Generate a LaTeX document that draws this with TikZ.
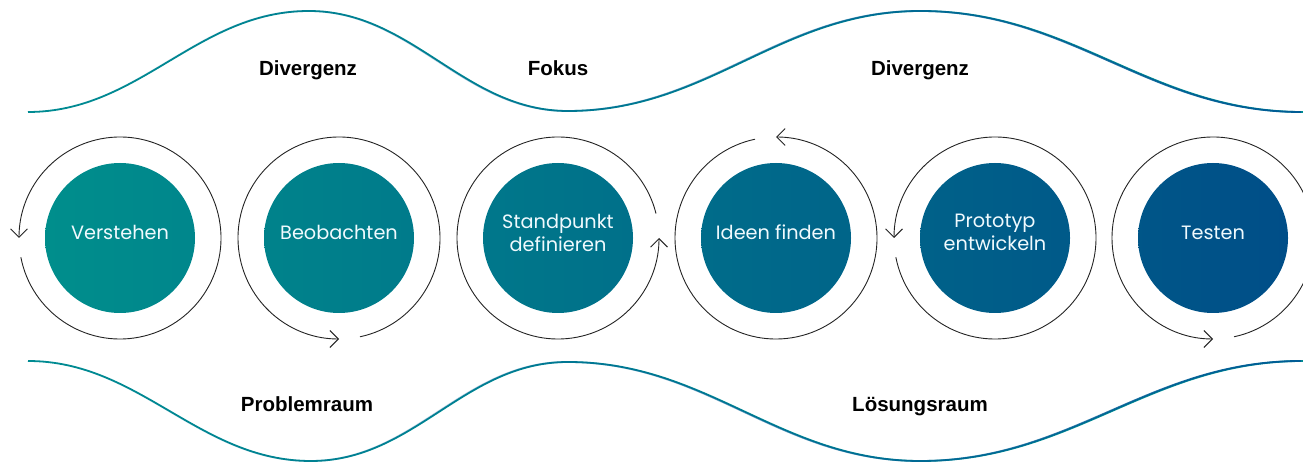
\documentclass[tikz,border=0pt]{standalone}
\usepackage{fontspec}
\setmainfont{Liberation Sans}
\newfontfamily\labelfont{Poppins}
\usetikzlibrary{arrows.meta,calc,fadings}
\definecolor{cTeal}{RGB}{0,142,140}
\definecolor{cNavy}{RGB}{0,78,136}
\definecolor{wTeal}{RGB}{0,140,146}
\definecolor{wBlue}{RGB}{0,92,150}
\definecolor{ringgray}{RGB}{35,35,35}
\tikzfading[name=lrfade, left color=transparent!100, right color=transparent!0]
\begin{document}
\begin{tikzpicture}[x=1pt,y=1pt,
  phase/.style={circle, minimum size=150pt, inner sep=0pt},
  plabel/.style={text=white!94!cyan, font=\labelfont\fontsize{19.3}{23}\selectfont, align=center, inner sep=0pt},
  ring/.style={draw=ringgray, line width=0.9pt, -{Straight Barb[length=8.5pt,width=17pt]}},
  wave/.style={line width=1.8pt},
  head/.style={font=\bfseries\fontsize{20.5}{24}\selectfont, text=black, inner sep=0pt, anchor=base}]
\clip (0,0) rectangle (1303,463);

% waves
\def\topwave{(28,351) .. controls (140,351) and (197,452) .. (309,452)
  .. controls (413,452) and (464,352) .. (568,352)
  .. controls (709,352) and (780,452) .. (921,452)
  .. controls (1074,452) and (1150,351) .. (1303,351)}
\def\botwave{(28,102) .. controls (140,102) and (199,2) .. (311,2)
  .. controls (415,2) and (464,101) .. (568,101)
  .. controls (709,101) and (780,2) .. (921,2)
  .. controls (1074,2) and (1150,102) .. (1303,102)}
\draw[wave, wTeal] \topwave;
\draw[wave, wBlue, path fading=lrfade] \topwave;
\draw[wave, wTeal] \botwave;
\draw[wave, wBlue, path fading=lrfade] \botwave;

% headings
\node[head] (d1) at (308,387) {Divergenz};
\node[head] (fk) at (558,387) {Fokus};
\node[head] (d2) at (920,387) {Divergenz};
\node[head] (pr) at (307,52) {Problemraum};
\node[head] (lr) at (920,52) {Lösungsraum};

% phase circles
\node[phase, left color=cTeal, right color=cNavy!12!cTeal] (v) at (120,225) {};
\node[phase, left color=cNavy!18!cTeal, right color=cNavy!30!cTeal] (b) at (339,225) {};
\node[phase, left color=cNavy!35!cTeal, right color=cNavy!47!cTeal] (s) at (558,225) {};
\node[phase, left color=cNavy!53!cTeal, right color=cNavy!65!cTeal] (i) at (776,225) {};
\node[phase, left color=cNavy!70!cTeal, right color=cNavy!82!cTeal] (p) at (995,225) {};
\node[phase, left color=cNavy!88!cTeal, right color=cNavy] (t) at (1213,225) {};

% labels
\node[plabel, anchor=base] (vl) at ($(v)+(0,-2)$) {Verstehen};
\node[plabel, anchor=base] (bl) at ($(b)+(0,-2)$) {Beobachten};
\node[plabel] (sl) at ($(s)+(0,5.5)$) {Standpunkt\\definieren};
\node[plabel, anchor=base] (il) at ($(i)+(0,-2)$) {Ideen finden};
\node[plabel] (pl) at ($(p)+(0,5.5)$) {Prototyp\\entwickeln};
\node[plabel, anchor=base] (tl) at ($(t)+(0,-2)$) {Testen};

% cycle rings
\draw[ring] ($(v)+(191:101pt)$) arc[start angle=191, end angle=540, radius=101pt];
\draw[ring] ($(b)+(282:101pt)$) arc[start angle=282, end angle=630, radius=101pt];
\draw[ring] ($(s)+(14:101pt)$) arc[start angle=14, end angle=360, radius=101pt];
\draw[ring] ($(i)+(102:101pt)$) arc[start angle=102, end angle=450, radius=101pt];
\draw[ring] ($(p)+(191:101pt)$) arc[start angle=191, end angle=540, radius=101pt];
\draw[ring] ($(t)+(282:101pt)$) arc[start angle=282, end angle=630, radius=101pt];
\end{tikzpicture}
\end{document}
